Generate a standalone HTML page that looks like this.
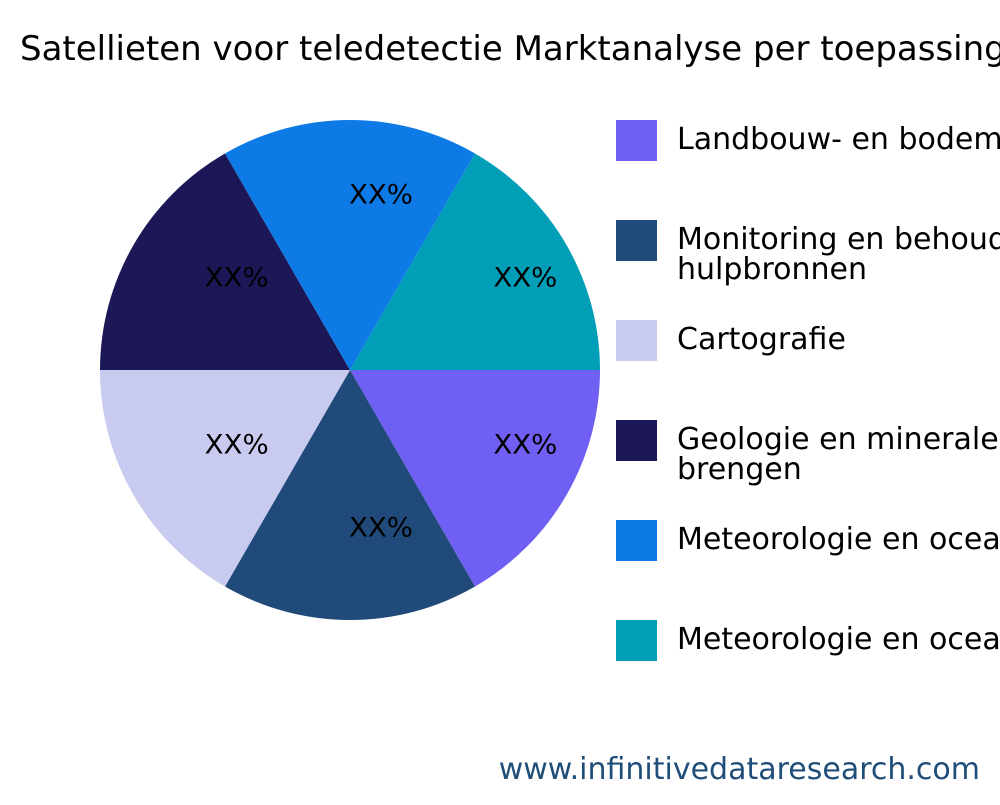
<!DOCTYPE html>
<html><head><meta charset="utf-8"><style>
body{margin:0;background:#fff;}
svg text{font-family:"DejaVu Sans","Liberation Sans",sans-serif;}
</style></head><body>
<svg id="chart" width="1000" height="800" viewBox="0 0 1000 800">
<text x="20" y="60" font-size="34" fill="#000">Satellieten voor teledetectie Marktanalyse per toepassing</text>
<g id="slices"></g>
<g id="legend"></g>
<text x="980" y="779" font-size="30" fill="#1f4e79" text-anchor="end">www.infinitivedataresearch.com</text>
</svg>
<script>
const categories=["Landbouw- en bodem","Monitoring en behoud|hulpbronnen","Cartografie","Geologie en minerale|brengen","Meteorologie en oceanografie","Meteorologie en oceanografie"];
const values=[1,1,1,1,1,1];
const labels=["XX%","XX%","XX%","XX%","XX%","XX%"];
const colors=["#6f5ff2","#1f4a7a","#c8caf0","#1c1757","#0d7ae6","#009fb7"];
const NS="http://www.w3.org/2000/svg";
const cx=350,cy=370,r=250;
const total=values.reduce((a,b)=>a+b,0);
const sg=document.getElementById('slices');
let a0=0;
values.forEach((v,i)=>{
  const a1=a0+v/total*2*Math.PI;
  const x0=cx+r*Math.cos(a0),y0=cy+r*Math.sin(a0),x1=cx+r*Math.cos(a1),y1=cy+r*Math.sin(a1);
  const p=document.createElementNS(NS,'path');
  p.setAttribute('d',`M${cx},${cy}L${x0},${y0}A${r},${r} 0 ${a1-a0>Math.PI?1:0} 1 ${x1},${y1}Z`);
  p.setAttribute('fill',colors[i]);
  
  
  sg.appendChild(p);
  const am=(a0+a1)/2;
  const t=document.createElementNS(NS,'text');
  t.setAttribute('x',cx+r*2/3*Math.cos(am)-1);t.setAttribute('y',cy+r*2/3*Math.sin(am));
  t.setAttribute('font-size','27');t.setAttribute('fill','#000');
  t.setAttribute('textLength','64');t.setAttribute('lengthAdjust','spacingAndGlyphs');
  t.textContent=labels[i];
  
  
  sg.appendChild(t);
  a0=a1;
});
const lg=document.getElementById('legend');
categories.forEach((c,i)=>{
  const y=120+i*100;
  const rc=document.createElementNS(NS,'rect');
  rc.setAttribute('x',616);rc.setAttribute('y',y);rc.setAttribute('width',41);rc.setAttribute('height',41);
  rc.setAttribute('fill',colors[i]);
  
  
  lg.appendChild(rc);
  const lines=c.split('|');
  lines.forEach((ln,j)=>{
    const t=document.createElementNS(NS,'text');
    const ty=lines.length>1? y+29+j*30 : y+29;
    t.setAttribute('x',677);t.setAttribute('y',ty);t.setAttribute('font-size','30');t.setAttribute('fill','#000');
    t.textContent=ln;
    
    
    lg.appendChild(t);
  });
});
</script>
</body></html>
